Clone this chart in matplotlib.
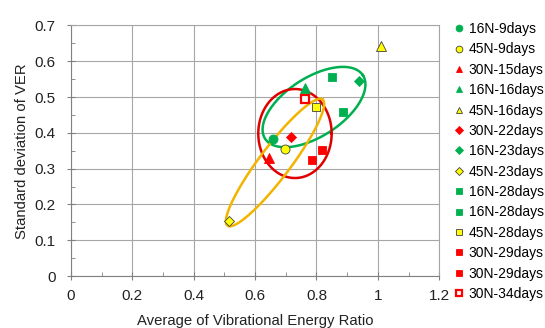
import numpy as np
import matplotlib
matplotlib.use("Agg")
import matplotlib.pyplot as plt

plt.rcParams['font.family'] = ['Liberation Sans', 'DejaVu Sans']

# Séries (label, x, y)
labels = ["16N-9days", "45N-9days", "30N-15days", "16N-16days", "45N-16days",
          "30N-22days", "16N-23days", "45N-23days", "16N-28days", "16N-28days",
          "45N-28days", "30N-29days", "30N-29days", "30N-34days"]
x_vals = [0.660, 0.697, 0.645, 0.763, 1.009, 0.717, 0.938, 0.516, 0.851, 0.885,
          0.800, 0.786, 0.817, 0.763]
y_vals = [0.383, 0.356, 0.330, 0.524, 0.643, 0.389, 0.546, 0.155, 0.557, 0.457,
          0.471, 0.324, 0.353, 0.494]

GREEN = "#00B050"
YELLOW = "#FFFF00"
RED = "#FF0000"
styles = [
    ("o", GREEN, GREEN, 6.5),
    ("o", YELLOW, "#404040", 6.5),
    ("^", RED, RED, 6.5),
    ("^", GREEN, GREEN, 6.5),
    ("^", YELLOW, "#404040", 6.5),
    ("D", RED, RED, 5),
    ("D", GREEN, GREEN, 5),
    ("D", YELLOW, "#404040", 5),
    ("s", GREEN, GREEN, 6),
    ("s", GREEN, GREEN, 6),
    ("s", YELLOW, "#404040", 6),
    ("s", RED, RED, 6),
    ("s", RED, RED, 6),
    ("s", "white", RED, 6),
]

# ellipses: centre (data), demi-axes (px), angle (deg), couleur
ellipses = [
    (0.792, 0.472, 58.3, 29.3, 33, GREEN),
    (0.730, 0.398, 36.7, 44.5, 0, "#E00000"),
    (0.665, 0.317, 79.0, 15.5, 53, "#F2B400"),
]

fig = plt.figure(figsize=(5.45, 3.28), dpi=100)
ax = fig.add_axes([0.130, 0.1585, 0.676, 0.764])
ax.set_xlim(0, 1.2)
ax.set_ylim(0, 0.7)
ax.set_xticks(np.arange(0, 1.21, 0.2))
ax.set_xticklabels(["0", "0.2", "0.4", "0.6", "0.8", "1", "1.2"])
ax.set_yticks(np.arange(0, 0.71, 0.1))
ax.set_yticklabels(["0", "0.1", "0.2", "0.3", "0.4", "0.5", "0.6", "0.7"])
ax.set_xticks(np.arange(0.1, 1.2, 0.2), minor=True)
ax.set_yticks(np.arange(0.05, 0.7, 0.1), minor=True)
ax.grid(True, which="major", color="#A6A6A6", linewidth=0.8)
ax.set_axisbelow(True)
for s in ax.spines.values():
    s.set_color("#A6A6A6")
ax.spines["left"].set_color("#808080")
ax.spines["bottom"].set_color("#808080")
ax.tick_params(which="major", direction="inout", length=6, color="#808080",
               labelsize=11, labelcolor="#222222", top=False, right=False)
ax.tick_params(axis="y", which="major", pad=8)
ax.tick_params(axis="x", which="major", pad=6)
ax.tick_params(which="minor", direction="in", length=3, color="#808080")

# conversion px -> data
sx = 0.676 * 545 / 1.2
sy = 0.764 * 328 / 0.7
t = np.linspace(0, 2 * np.pi, 300)
for cx, cy, a, b, ang, col in ellipses:
    th = np.radians(ang)
    dx = a * np.cos(t) * np.cos(th) - b * np.sin(t) * np.sin(th)
    dy = a * np.cos(t) * np.sin(th) + b * np.sin(t) * np.cos(th)
    ax.plot(cx + dx / sx, cy + dy / sy, color=col, linewidth=1.8, zorder=3)

for lab, x, y, (m, fc, ec, ms) in zip(labels, x_vals, y_vals, styles):
    mew = 1.6 if fc == "white" else 0.6
    ax.plot([x], [y], linestyle="none", marker=m, markersize=ms,
            markerfacecolor=fc, markeredgecolor=ec, markeredgewidth=mew,
            label=lab, zorder=4)

ax.set_xlabel("Average of Vibrational Energy Ratio", fontsize=10.7,
              color="#222222", labelpad=8)
ax.set_ylabel("Standard deviation of VER", fontsize=10.7, color="#222222",
              labelpad=4)

fig.legend(loc="upper left", bbox_to_anchor=(0.833, 0.933), frameon=False,
           fontsize=10, handlelength=0.7, handletextpad=0.35, markerscale=0.75,
           labelspacing=0.46, borderaxespad=0, borderpad=0)

fig.savefig("out.png", dpi=100)
